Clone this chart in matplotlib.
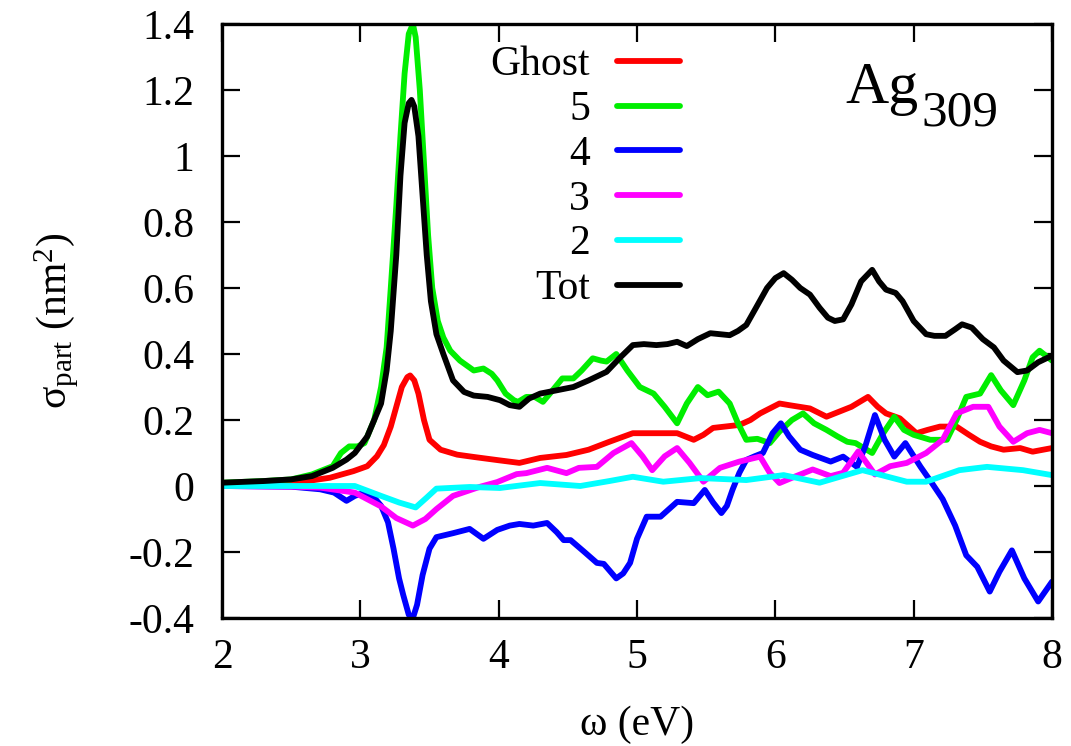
import matplotlib
matplotlib.use("Agg")
import matplotlib.pyplot as plt

plt.rcParams['font.family'] = ['Liberation Serif', 'DejaVu Serif']
plt.rcParams['mathtext.fontset'] = 'custom'
plt.rcParams['mathtext.rm'] = 'Liberation Serif'
plt.rcParams['mathtext.it'] = 'Liberation Serif:italic'
plt.rcParams['mathtext.bf'] = 'Liberation Serif:bold'

# ---- data (omega in eV, sigma_part in nm^2) ----
tot_x = [2.0, 2.3, 2.5, 2.65, 2.8, 2.9, 2.96, 3.05, 3.15, 3.19, 3.22, 3.26, 3.29, 3.32, 3.35, 3.37,
         3.39, 3.42, 3.45, 3.48, 3.51, 3.55, 3.6, 3.67, 3.75, 3.82, 3.92, 4.01, 4.08, 4.15, 4.22,
         4.30, 4.42, 4.54, 4.65, 4.78, 4.88, 4.97, 5.05, 5.14, 5.22, 5.29, 5.36, 5.44, 5.53, 5.60,
         5.67, 5.73, 5.79, 5.86, 5.94, 6.0, 6.06, 6.12, 6.18, 6.25, 6.32, 6.38, 6.43, 6.49, 6.55,
         6.62, 6.70, 6.75, 6.80, 6.87, 6.92, 7.0, 7.09, 7.15, 7.23, 7.30, 7.35, 7.42, 7.5, 7.58,
         7.65, 7.75, 7.82, 7.90, 8.0]
tot_y = [0.01, 0.015, 0.02, 0.03, 0.055, 0.08, 0.10, 0.15, 0.25, 0.35, 0.47, 0.70, 0.94, 1.10, 1.16,
         1.17, 1.15, 1.06, 0.88, 0.70, 0.56, 0.46, 0.40, 0.32, 0.285, 0.274, 0.27, 0.26, 0.245, 0.24,
         0.265, 0.28, 0.29, 0.30, 0.32, 0.346, 0.39, 0.427, 0.43, 0.427, 0.43, 0.437, 0.424, 0.445,
         0.463, 0.46, 0.457, 0.47, 0.488, 0.54, 0.60, 0.63, 0.645, 0.625, 0.60, 0.58, 0.54, 0.51,
         0.50, 0.505, 0.55, 0.62, 0.655, 0.62, 0.595, 0.585, 0.56, 0.50, 0.46, 0.455, 0.455, 0.475,
         0.49, 0.48, 0.445, 0.42, 0.38, 0.345, 0.35, 0.375, 0.395]

s5_x = [2.0, 2.3, 2.5, 2.65, 2.8, 2.86, 2.92, 2.98, 3.03, 3.1, 3.15, 3.19, 3.22, 3.26, 3.29, 3.32,
        3.35, 3.38, 3.40, 3.43, 3.46, 3.49, 3.52, 3.56, 3.6, 3.65, 3.72, 3.82, 3.89, 3.95, 3.99,
        4.05, 4.11, 4.14, 4.2, 4.26, 4.32, 4.39, 4.46, 4.54, 4.6, 4.68, 4.74, 4.78, 4.85, 4.93,
        5.02, 5.12, 5.2, 5.29, 5.36, 5.44, 5.51, 5.59, 5.67, 5.73, 5.79, 5.87, 5.96, 6.03, 6.12,
        6.20, 6.28, 6.37, 6.45, 6.52, 6.58, 6.64, 6.70, 6.78, 6.86, 6.93, 7.0, 7.12, 7.24, 7.31,
        7.38, 7.48, 7.56, 7.63, 7.72, 7.80, 7.86, 7.91, 8.0]
s5_y = [0.01, 0.015, 0.02, 0.035, 0.06, 0.10, 0.12, 0.12, 0.13, 0.20, 0.30, 0.42, 0.60, 0.85, 1.06,
        1.25, 1.37, 1.40, 1.36, 1.20, 0.98, 0.76, 0.60, 0.50, 0.45, 0.41, 0.38, 0.35, 0.356, 0.34,
        0.32, 0.28, 0.26, 0.255, 0.27, 0.27, 0.255, 0.29, 0.326, 0.326, 0.35, 0.387, 0.38, 0.377,
        0.40, 0.35, 0.30, 0.28, 0.24, 0.19, 0.25, 0.30, 0.275, 0.286, 0.25, 0.19, 0.14, 0.143,
        0.13, 0.165, 0.20, 0.22, 0.19, 0.17, 0.15, 0.134, 0.13, 0.115, 0.10, 0.16, 0.21, 0.17,
        0.155, 0.14, 0.14, 0.20, 0.27, 0.28, 0.336, 0.29, 0.245, 0.32, 0.39, 0.41, 0.38]

ghost_x = [2.0, 2.3, 2.5, 2.78, 2.95, 3.05, 3.12, 3.17, 3.22, 3.26, 3.30, 3.34, 3.36, 3.39, 3.42,
           3.46, 3.50, 3.58, 3.7, 3.82, 4.0, 4.15, 4.3, 4.49, 4.65, 4.80, 4.97, 5.12, 5.29, 5.41,
           5.48, 5.55, 5.74, 5.82, 5.89, 6.03, 6.10, 6.25, 6.37, 6.46, 6.55, 6.67, 6.74, 6.80, 6.90,
           7.02, 7.10, 7.19, 7.31, 7.40, 7.48, 7.56, 7.65, 7.77, 7.86, 8.0]
ghost_y = [0.0, 0.003, 0.008, 0.025, 0.045, 0.06, 0.09, 0.124, 0.18, 0.24, 0.30, 0.33, 0.335, 0.32,
           0.28, 0.20, 0.14, 0.11, 0.095, 0.088, 0.078, 0.07, 0.085, 0.094, 0.11, 0.134, 0.16, 0.16,
           0.16, 0.14, 0.155, 0.176, 0.185, 0.20, 0.22, 0.25, 0.245, 0.235, 0.21, 0.225, 0.24, 0.27,
           0.24, 0.22, 0.205, 0.16, 0.17, 0.18, 0.18, 0.155, 0.134, 0.12, 0.11, 0.115, 0.104, 0.115]

s4_x = [2.0, 2.5, 2.71, 2.81, 2.90, 2.96, 3.03, 3.10, 3.15, 3.20, 3.24, 3.28, 3.31, 3.35, 3.38,
        3.41, 3.45, 3.50, 3.55, 3.67, 3.79, 3.89, 3.99, 4.08, 4.15, 4.25, 4.35, 4.42, 4.47, 4.52,
        4.62, 4.71, 4.76, 4.85, 4.90, 4.95, 5.0, 5.07, 5.17, 5.29, 5.41, 5.49, 5.55, 5.61, 5.65,
        5.69, 5.74, 5.79, 5.85, 5.91, 5.98, 6.04, 6.10, 6.18, 6.27, 6.40, 6.49, 6.59, 6.65, 6.72,
        6.79, 6.86, 6.94, 7.05, 7.13, 7.21, 7.30, 7.38, 7.46, 7.55, 7.62, 7.71, 7.80, 7.90, 8.0]
s4_y = [0.0, -0.002, -0.01, -0.02, -0.045, -0.03, -0.02, -0.035, -0.06, -0.11, -0.19, -0.28, -0.33,
        -0.39, -0.40, -0.36, -0.27, -0.19, -0.155, -0.143, -0.13, -0.16, -0.133, -0.12, -0.115,
        -0.12, -0.112, -0.14, -0.164, -0.164, -0.20, -0.233, -0.236, -0.28, -0.265, -0.233, -0.16,
        -0.093, -0.093, -0.048, -0.052, -0.012, -0.05, -0.082, -0.06, -0.012, 0.04, 0.079, 0.09,
        0.10, 0.16, 0.19, 0.15, 0.11, 0.094, 0.074, 0.089, 0.058, 0.12, 0.215, 0.14, 0.089, 0.13,
        0.058, 0.01, -0.04, -0.12, -0.21, -0.245, -0.32, -0.26, -0.195, -0.28, -0.35, -0.29]

s3_x = [2.0, 2.5, 2.71, 2.96, 3.15, 3.26, 3.38, 3.47, 3.55, 3.67, 3.86, 3.99, 4.13, 4.20, 4.35,
        4.49, 4.58, 4.71, 4.83, 4.96, 5.04, 5.11, 5.2, 5.29, 5.38, 5.48, 5.60, 5.74, 5.89, 5.96,
        6.03, 6.15, 6.27, 6.40, 6.49, 6.60, 6.72, 6.83, 6.95, 7.09, 7.21, 7.31, 7.43, 7.54, 7.62,
        7.72, 7.82, 7.91, 8.0]
s3_y = [0.0, -0.002, -0.005, -0.02, -0.062, -0.097, -0.12, -0.10, -0.07, -0.03, -0.003, 0.012,
        0.036, 0.039, 0.055, 0.039, 0.055, 0.058, 0.10, 0.13, 0.09, 0.048, 0.09, 0.115, 0.07,
        0.013, 0.055, 0.074, 0.089, 0.04, 0.009, 0.03, 0.05, 0.03, 0.04, 0.105, 0.035, 0.06,
        0.07, 0.10, 0.14, 0.22, 0.24, 0.24, 0.18, 0.134, 0.16, 0.17, 0.16]

s2_x = [2.0, 2.96, 3.15, 3.28, 3.40, 3.48, 3.55, 3.79, 4.01, 4.30, 4.59, 4.80, 4.97, 5.19, 5.46,
        5.79, 6.06, 6.32, 6.63, 6.95, 7.09, 7.33, 7.53, 7.79, 8.0]
s2_y = [0.0, 0.0, -0.03, -0.05, -0.065, -0.035, -0.008, -0.003, -0.006, 0.009, 0.0, 0.015, 0.028,
        0.013, 0.024, 0.018, 0.033, 0.01, 0.048, 0.013, 0.013, 0.048, 0.058, 0.048, 0.033]

labels = ['Ghost', '5', '4', '3', '2', 'Tot']
colors = ['#ff0000', '#00ee00', '#0000ff', '#ff00ff', '#00ffff', '#000000']
xticks = [2, 3, 4, 5, 6, 7, 8]
yticks = [-0.4, -0.2, 0, 0.2, 0.4, 0.6, 0.8, 1.0, 1.2, 1.4]
ytick_labels = ['-0.4', '-0.2', '0', '0.2', '0.4', '0.6', '0.8', '1', '1.2', '1.4']

series = [(ghost_x, ghost_y), (s5_x, s5_y), (s4_x, s4_y), (s3_x, s3_y), (s2_x, s2_y), (tot_x, tot_y)]

FS = 30
fig = plt.figure(figsize=(10.71, 7.46), dpi=100)
ax = fig.add_axes([222 / 1071, 1 - 618 / 746, (1052 - 222) / 1071, (618 - 24) / 746])

for (xs, ys), lab, col in zip(series, labels, colors):
    ax.plot(xs, ys, color=col, lw=4.2, label=lab, solid_joinstyle='round', solid_capstyle='round')

ax.set_xlim(2, 8)
ax.set_ylim(-0.4, 1.4)
ax.set_xticks(xticks)
ax.set_xticklabels([str(v) for v in xticks])
ax.set_yticks(yticks)
ax.set_yticklabels(ytick_labels)
ax.tick_params(direction='in', length=13, width=1.6, labelsize=FS, top=True, right=True)
ax.tick_params(axis='x', pad=15)
ax.tick_params(axis='y', pad=20)
for sp in ax.spines.values():
    sp.set_linewidth(2.4)

ax.set_xlabel('ω (eV)', fontsize=FS)
ax.set_ylabel('σ$_{\\rm part}$ (nm$^{2}$)', fontsize=FS)
ax.xaxis.set_label_coords(0.5, (618 - 725) / 594)
ax.xaxis.label.set_verticalalignment('center')
ax.yaxis.set_label_coords((57 - 222) / 830, 0.5)
ax.yaxis.label.set_verticalalignment('center')

leg = ax.legend(loc='upper right', bbox_to_anchor=(0.552, 0.963), markerfirst=False, frameon=False,
                fontsize=FS, handlelength=1.51, labelspacing=0.15, handletextpad=0.65,
                borderaxespad=0.0, borderpad=0.0)
for h in leg.legend_handles:
    h.set_linewidth(4.2)

fig.text(845 / 1071, 1 - 103 / 746, 'Ag', fontsize=43, ha='left', va='baseline')
fig.text(921 / 1071, 1 - 125 / 746, '309', fontsize=37, ha='left', va='baseline')

fig.savefig('out.png', dpi=100)
